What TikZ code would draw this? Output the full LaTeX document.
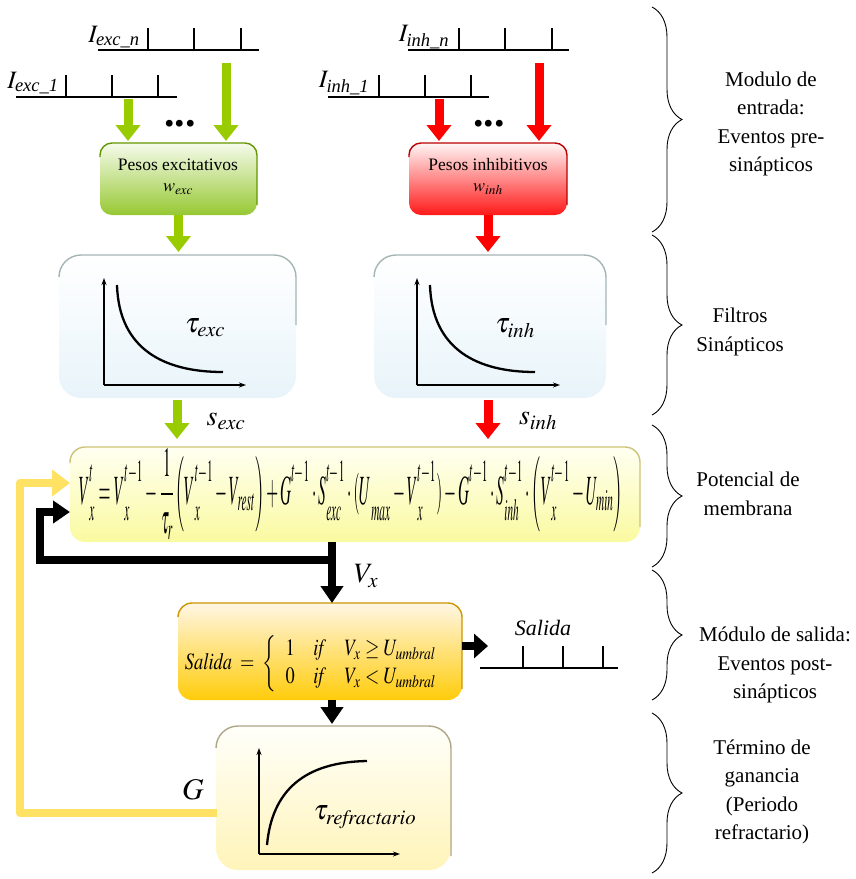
\documentclass[tikz,border=0pt]{standalone}
\usepackage{graphicx}
\usepackage{amsmath}
\usepackage{mathptmx}
\usepackage{fontspec}
\setmainfont{Liberation Serif}
\usetikzlibrary{arrows.meta,decorations.pathreplacing,calc}

% colours
\definecolor{gArrow}{RGB}{153,204,0}
\definecolor{gBoxTop}{RGB}{246,251,236}
\definecolor{gBoxBot}{RGB}{150,200,50}
\definecolor{gRim}{RGB}{100,150,0}
\definecolor{rArrow}{RGB}{255,0,0}
\definecolor{rBoxTop}{RGB}{255,246,246}
\definecolor{rBoxBot}{RGB}{255,25,25}
\definecolor{rRim}{RGB}{185,0,0}
\definecolor{fTop}{RGB}{255,255,255}
\definecolor{fBot}{RGB}{232,244,250}
\definecolor{fRim}{RGB}{165,180,180}
\definecolor{mTop}{RGB}{255,255,242}
\definecolor{mBot}{RGB}{250,250,160}
\definecolor{mRim}{RGB}{205,195,120}
\definecolor{oTop}{RGB}{255,246,228}
\definecolor{oBot}{RGB}{255,204,10}
\definecolor{oRim}{RGB}{205,150,0}
\definecolor{pTop}{RGB}{255,255,250}
\definecolor{pBot}{RGB}{255,244,185}
\definecolor{pRim}{RGB}{175,165,135}
\definecolor{gainLine}{RGB}{255,225,100}

% symbol with slightly raised superscript / lowered subscript
\newcommand{\tallsym}[1]{{#1\vphantom{\big(}}}

% spike train: left x, right x, baseline y, tick positions
\newcommand{\spktrain}[4]{%
  \draw[train] (#1,#3) -- (#2,#3);
  \foreach \t in {#4} \draw[train] (\t,#3) -- (\t,#3+22);
}

% darker rim along the top and right edge of a panel
\newcommand{\rimline}[5]{%
  \draw[#2, line width=1.4pt, rounded corners=#3]
    ($(#1.north west)+(0,-#4)$) |- (#1.north east) -- ($(#1.north east)+(0,-#5)$);
}

\tikzset{
  panel/.style n args={3}{rectangle, rounded corners=#1, top color=#2, bottom color=#3,
    inner sep=0pt, outer sep=0pt},
  txt/.style={inner sep=0pt, outer sep=0pt},
  side/.style={txt, align=center, font=\fontsize{21}{28.5}\selectfont},
  boxtxt/.style={txt, font=\fontsize{17.5}{20}\selectfont},
  big/.style={txt, font=\fontsize{28}{30}\selectfont},
  inlbl/.style={txt, font=\fontsize{25}{26}\selectfont},
  dots/.style={txt, font=\fontsize{42}{42}\selectfont\bfseries},
  train/.style={line width=2.2pt},
  garrow/.style={draw=gArrow, line width=9pt, -{Triangle[width=24pt,length=16pt]}},
  rarrow/.style={draw=rArrow, line width=9pt, -{Triangle[width=24pt,length=16pt]}},
  karrow/.style={draw=black, line width=8pt, -{Triangle[width=22pt,length=17pt]}},
  yarrow/.style={draw=gainLine, line width=8pt, line join=round, -{Triangle[width=26pt,length=18pt]}},
  axis/.style={line width=1.3pt, -{Stealth[length=7pt,width=5pt]}},
  curve/.style={line width=2.3pt},
  brace/.style={decorate, decoration={brace, amplitude=30pt}, line width=0.9pt},
}

\begin{document}
\begin{tikzpicture}[x=1pt,y=1pt]
\useasboundingbox (0,0) rectangle (855,-879);

% ---------------- input spike trains ----------------
\spktrain{98}{259}{-50}{148,194,241}
\spktrain{16}{177}{-97}{66,112,158}
\spktrain{408}{569}{-50}{459,505,552}
\spktrain{328}{489}{-97}{379,425,471}

\node[inlbl] (lexcn) at (114,-37) {$I_{\textit{exc\_n}}$};
\node[inlbl] (lexc1) at (33,-83) {$I_{\textit{exc\_1}}$};
\node[inlbl] (linhn) at (424,-37) {$I_{\textit{inh\_n}}$};
\node[inlbl] (linh1) at (344,-83) {$I_{\textit{inh\_1}}$};

\node[dots] (dexc) at (180,-124) {...};
\node[dots] (dinh) at (489,-124) {...};

% ---------------- synaptic weights ----------------
\node[panel={12pt}{gBoxTop}{gBoxBot}, minimum width=157pt, minimum height=72pt] (wexc) at (178.5,-179) {};
\rimline{wexc}{gRim}{12pt}{14}{62}
\node[boxtxt] (twexc) at (178,-165) {Pesos excitativos};
\node[txt, font=\fontsize{18}{20}\selectfont] (wwexc) at (178,-189) {$w_{\mathit{exc}}$};

\node[panel={12pt}{rBoxTop}{rBoxBot}, minimum width=158pt, minimum height=72pt] (winh) at (488,-179) {};
\rimline{winh}{rRim}{12pt}{14}{62}
\node[boxtxt] (twinh) at (488,-165) {Pesos inhibitivos};
\node[txt, font=\fontsize{18}{20}\selectfont] (wwinh) at (488,-189) {$w_{\mathit{inh}}$};

\coordinate (e1) at (128,-99);
\coordinate (en) at (226,-63);
\coordinate (i1) at (439,-99);
\coordinate (in) at (539,-63);
\draw[garrow, shorten >=2pt] (e1) -- (e1 |- wexc.north);
\draw[garrow, shorten >=2pt] (en) -- (en |- wexc.north);
\draw[rarrow, shorten >=2pt] (i1) -- (i1 |- winh.north);
\draw[rarrow, shorten >=2pt] (in) -- (in |- winh.north);

% ---------------- synaptic filters ----------------
\node[panel={22pt}{fTop}{fBot}, minimum width=237pt, minimum height=143pt] (fexc) at (177.5,-326.5) {};
\rimline{fexc}{fRim}{22pt}{22}{70}
\node[panel={22pt}{fTop}{fBot}, minimum width=232pt, minimum height=143pt] (finh) at (490,-326.5) {};
\rimline{finh}{fRim}{22pt}{22}{70}

\draw[garrow, shorten >=3pt] (wexc.south) -- (fexc.north -| wexc.south);
\draw[rarrow, shorten >=3pt] (winh.south) -- (finh.north -| winh.south);

\coordinate (oe) at (104,-385);
\draw[axis] (oe) -- ++(0,107);
\draw[axis] (oe) -- ++(142,0);
\draw[curve] (117,-285) .. controls (119,-350) and (165,-372) .. (223,-372);
\node[big] (texc) at (205,-328) {$\tau_{\mathit{exc}}$};

\coordinate (oi) at (417,-385);
\draw[axis] (oi) -- ++(0,107);
\draw[axis] (oi) -- ++(143,0);
\draw[curve] (430,-285) .. controls (432,-350) and (478,-372) .. (535,-372);
\node[big] (tinh) at (515,-328) {$\tau_{\mathit{inh}}$};

% ---------------- membrane potential ----------------
\node[panel={15pt}{mTop}{mBot}, minimum width=570pt, minimum height=95pt] (mem) at (355,-494.5) {};
\rimline{mem}{mRim}{15pt}{16}{80}
\node[txt] (eqmem) at (351,-494) {\resizebox{544pt}{56pt}{$\displaystyle
  \tallsym{V}^{t}_{x}=\tallsym{V}^{t-1}_{x}-\frac{1}{\tau_{r}}\Big(\tallsym{V}^{t-1}_{x}-V_{\mathit{rest}}\Big)
  +\tallsym{G}^{t-1}\cdot\tallsym{S}^{t-1}_{\mathit{exc}}\cdot(\tallsym{U}_{\mathit{max}}-\tallsym{V}^{t-1}_{x})
  -\tallsym{G}^{t-1}\cdot\tallsym{S}^{t-1}_{\mathit{inh}}\cdot\Big(\tallsym{V}^{t-1}_{x}-U_{\mathit{min}}\Big)$}};

\coordinate (sx) at (177,0);
\coordinate (sy) at (488,0);
\draw[garrow, shorten <=2pt, shorten >=8pt] (fexc.south -| sx) -- (mem.north -| sx);
\draw[rarrow, shorten <=2pt, shorten >=8pt] (finh.south -| sy) -- (mem.north -| sy);
\node[big] (lsexc) at (226,-421) {$s_{\mathit{exc}}$};
\node[big] (lsinh) at (538,-421) {$s_{\mathit{inh}}$};

% ---------------- output module ----------------
\node[panel={14pt}{oTop}{oBot}, minimum width=284pt, minimum height=97pt] (out) at (320,-651.5) {};
\rimline{out}{oRim}{14pt}{14}{86}
\node[txt] (eqout) at (316,-664) {\resizebox{262pt}{34pt}{$\mathit{Salida}\;=\;\left\{\begin{array}{l@{\quad}l@{\quad}l}
  1 & \mathit{if} & V_{x}\geq U_{\mathit{umbral}}\\ 0 & \mathit{if} & V_{x}< U_{\mathit{umbral}}\end{array}\right.$}};

\coordinate (vx) at (332,0);
\coordinate (vbr) at (332,-560);
\coordinate (lb) at (40,-512);
\draw[karrow] (mem.south -| vx) -- (out.north -| vx);
\draw[karrow, line join=miter] (vbr) -| (lb) -- (lb -| mem.west);
\node[big] (lvx) at (366,-576) {$V_{x}$};

\coordinate (sal) at (488,-646);
\draw[karrow, -{Triangle[width=24pt,length=14pt]}] (out.east |- sal) -- (sal);
\spktrain{480}{618}{-668}{523,563,603}
\node[txt, font=\fontsize{22}{24}\selectfont\itshape] (lsal) at (543,-628) {Salida};

% ---------------- refractory gain term ----------------
\node[panel={22pt}{pTop}{pBot}, minimum width=235pt, minimum height=144pt] (refr) at (333.5,-798) {};
\rimline{refr}{pRim}{22pt}{22}{130}
\draw[karrow, shorten >=2pt] (out.south -| vx) -- (refr.north -| vx);

\coordinate (orf) at (259,-854);
\draw[axis] (orf) -- ++(0,106);
\draw[axis] (orf) -- ++(141,0);
\draw[curve] (267,-845) .. controls (272,-790) and (305,-762) .. (367,-761);
\node[big] (trefr) at (365,-817) {$\tau_{\mathit{refractario}}$};

\coordinate (gstart) at (217,-813);
\coordinate (ly) at (20,-483);
\draw[yarrow] (gstart) -| (ly) -- (ly -| mem.west);
\node[big, font=\fontsize{30}{32}\selectfont] (lg) at (193,-790) {$G$};

% ---------------- stage braces and captions ----------------
\draw[brace] (652,-7) -- (652,-232);
\draw[brace] (652,-235) -- (652,-415);
\draw[brace] (652,-425) -- (652,-567);
\draw[brace] (652,-570) -- (652,-700);
\draw[brace] (652,-713) -- (652,-873);

\node[side] (c1) at (771,-124) {Modulo de\\entrada:\\Eventos pre-\\sinápticos};
\node[side] (c2) at (740,-332) {Filtros\\Sinápticos};
\node[side] (c3) at (748,-494) {Potencial de\\membrana};
\node[side] (c4) at (775,-665) {Módulo de salida:\\Eventos post-\\sinápticos};
\node[side] (c5) at (762,-792) {Término de\\ganancia\\(Periodo\\refractario)};
\end{tikzpicture}
\end{document}
